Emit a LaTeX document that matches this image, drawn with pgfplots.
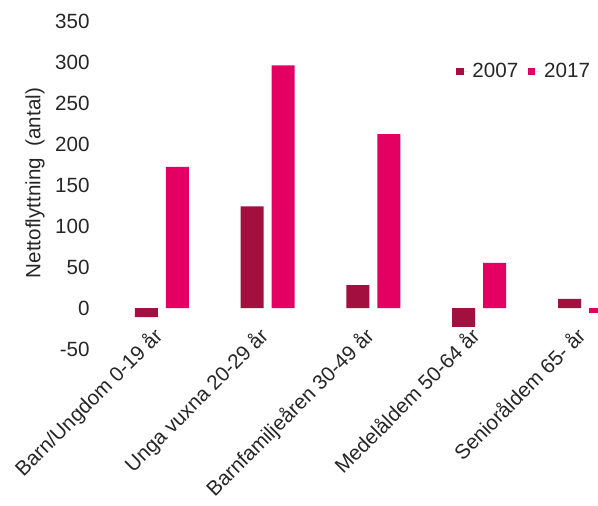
\documentclass[border=0pt]{standalone}
\usepackage{pgfplots}
\pgfplotsset{compat=1.18}
\usepackage{fontspec}
\setmainfont{Liberation Sans}
\definecolor{c2007}{RGB}{163,16,63}
\definecolor{c2017}{RGB}{228,0,98}
\begin{document}
\begin{tikzpicture}
\useasboundingbox (-49pt,-78pt) rectangle (250pt,174.5pt);
\begin{axis}[
  at={(0,0)}, anchor=south west,
  scale only axis, width=250pt, height=164pt,
  xmin=-0.605, xmax=4.123, ymin=-50, ymax=350,
  ytick={-50,0,50,100,150,200,250,300,350},
  xtick={0,1,2,3,4},
  xticklabels={Barn/Ungdom 0-19 år, Unga vuxna 20-29 år, Barnfamiljeåren 30-49 år, Medelåldem 50-64 år, Senioråldem 65- år},
  axis line style={draw=none},
  major tick length=0pt,
  /pgf/number format/assume math mode=true,
  tick label style={font=\fontsize{10.3}{12}\selectfont, text=black!85},
  yticklabel style={inner sep=0pt, xshift=-4pt},
  xticklabel style={xshift=-5pt, yshift=12pt, rotate=45, anchor=north east, inner sep=0pt},
  every axis y label/.style={at={(axis description cs:-0.126,0.506)}, rotate=90, anchor=center, font=\fontsize{10.3}{12}\selectfont, text=black!85},
  ylabel={Nettoflyttning~ (antal)},
  ybar=4pt, bar width=11.5pt,
  legend columns=2,
  legend style={draw=none, fill=none, at={(rel axis cs:0.716,0.845)}, anchor=west, font=\fontsize{10.3}{12}\selectfont, text=black!85, inner sep=0pt, /tikz/every even column/.append style={column sep=3pt}},
  legend image code/.code={\fill[#1] (0pt,-1.8pt) rectangle (3.6pt,1.8pt); \path (3.6pt,0pt) -- (6pt,0pt);},
]
\addplot[draw=none, fill=c2007] coordinates {(0,-11) (1,124) (2,28) (3,-23) (4,11)};
\addplot[draw=none, fill=c2017] coordinates {(0,172) (1,296) (2,212) (3,55) (4,-6)};
\legend{2007,2017}
\end{axis}
\end{tikzpicture}
\end{document}
